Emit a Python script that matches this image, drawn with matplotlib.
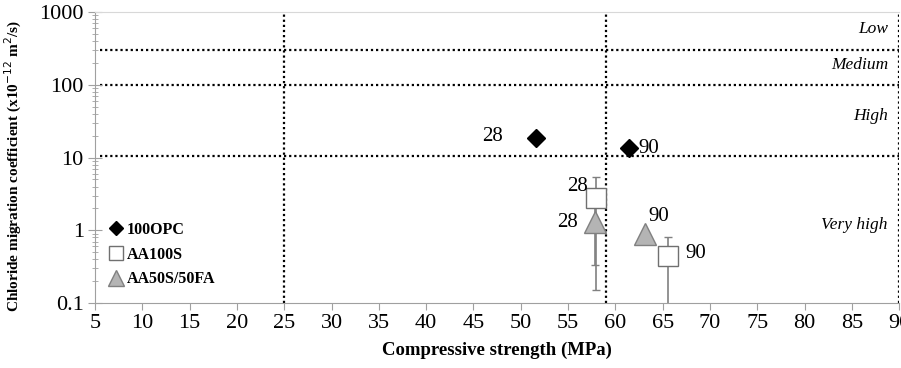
import numpy as np
import matplotlib.pyplot as plt
from matplotlib.ticker import FixedLocator, NullFormatter

plt.rcParams['font.family'] = ['Liberation Serif', 'DejaVu Serif']

# Data: compressive strength (MPa) vs chloride migration coefficient
opc_x = [51.6, 61.4]
opc_y = [18.5, 13.5]
opc_age = ['28', '90']

s100_x = [58.0, 65.6]
s100_y = [2.8, 0.45]
s100_err = [2.65, 0.37]
s100_age = ['28', '90']

fa_x = [57.8, 63.1]
fa_y = [1.3, 0.9]
fa_err = [0.97, 0.0]
fa_age = ['28', '90']

# Class boundaries
hlines = [300, 100, 10.5]
vlines = [25, 59, 90]
zones = ['Low', 'Medium', 'High', 'Very high']
zone_y = [580, 187, 37, 1.18]

fig = plt.figure(figsize=(9.01, 3.68), dpi=100)
ax = fig.add_axes([0.1054, 0.1766, 0.8926, 0.7904])
ax.set_yscale('log')
ax.set_xlim(5, 90)
ax.set_ylim(0.1, 1000)

for h in hlines:
    ax.plot([5.5, 90], [h, h], color='black', linestyle=(0, (1, 1.3)), lw=1.6, zorder=1)
for v in vlines:
    ax.axvline(v, color='black', linestyle=(0, (1, 1.3)), lw=1.6, zorder=1)

ax.errorbar(s100_x, s100_y, yerr=s100_err, fmt='none', ecolor='#808080', elinewidth=1.2,
            capsize=3, capthick=1, zorder=2)
ax.errorbar(fa_x, fa_y, yerr=fa_err, fmt='none', ecolor='#808080', elinewidth=1.2,
            capsize=3, capthick=1, zorder=2)

ax.plot(opc_x, opc_y, 'D', color='black', ms=9, ls='none', label='100OPC', zorder=4)
ax.plot(s100_x, s100_y, 's', mfc='white', mec='#707070', mew=1, ms=14, ls='none',
        label='AA100S', zorder=3)
ax.plot(fa_x, fa_y, '^', mfc='#b4b4b4', mec='#808080', mew=1, ms=16, ls='none',
        label='AA50S/50FA', zorder=3)

fs = 15
ax.text(opc_x[0] - 3.5, opc_y[0] * 1.05, opc_age[0], fontsize=fs, ha='right', va='center')
ax.text(opc_x[1] + 1.0, opc_y[1], opc_age[1], fontsize=fs, ha='left', va='center')
ax.text(s100_x[0] - 0.9, s100_y[0] * 1.45, s100_age[0], fontsize=fs, ha='right', va='center')
ax.text(fa_x[0] - 1.8, fa_y[0], fa_age[0], fontsize=fs, ha='right', va='center')
ax.text(fa_x[1] + 0.4, fa_y[1] * 1.7, fa_age[1], fontsize=fs, ha='left', va='center')
ax.text(s100_x[1] + 1.8, s100_y[1] * 1.05, s100_age[1], fontsize=fs, ha='left', va='center')

for z, zy in zip(zones, zone_y):
    ax.text(88.8, zy, z, fontsize=12.5, style='italic', ha='right', va='center')

ax.set_xticks(np.arange(5, 91, 5))
ax.set_yticks([0.1, 1, 10, 100, 1000])
ax.set_yticklabels(['0.1', '1', '10', '100', '1000'])
minor = [m * 10.0 ** e for e in range(-1, 3) for m in range(2, 10)]
ax.yaxis.set_minor_locator(FixedLocator(minor))
ax.yaxis.set_minor_formatter(NullFormatter())
ax.tick_params(axis='x', direction='out', length=5, color='#a0a0a0', labelsize=16, pad=3)
ax.tick_params(axis='y', which='major', direction='inout', length=10, color='#a0a0a0',
               labelsize=16, pad=3)
ax.tick_params(axis='y', which='minor', direction='inout', length=5, color='#a0a0a0')

for side in ['left', 'bottom']:
    ax.spines[side].set_color('#a0a0a0')
ax.spines['top'].set_color('#d8d8d8')
ax.spines['right'].set_visible(False)

ax.set_xlabel('Compressive strength (MPa)', fontsize=13.5, fontweight='bold', labelpad=6)
ax.set_ylabel('Chloride migration coefficient (x10$^{-12}$ m$^2$/s)', fontsize=11,
              fontweight='bold')
ax.yaxis.set_label_coords(-0.088, 0.47)

ax.legend(loc='lower left', bbox_to_anchor=(0.0, 0.015), frameon=False,
          prop={'weight': 'bold', 'size': 11.5}, handletextpad=0.1, labelspacing=0.55,
          markerscale=0.75, handlelength=1.2, borderaxespad=0.3)

fig.savefig('out.png', dpi=100)
